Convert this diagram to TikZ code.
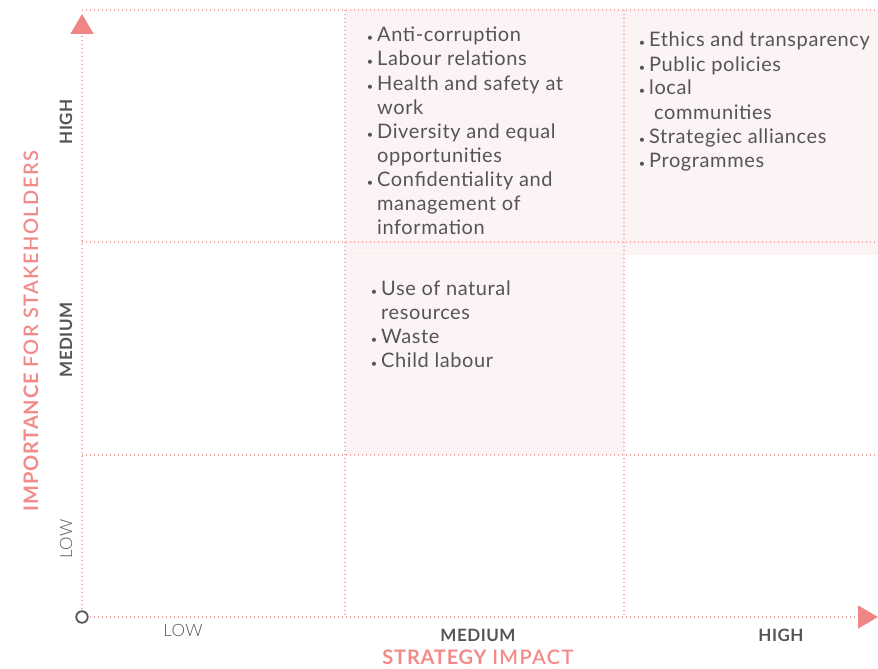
\documentclass[tikz,border=0pt]{standalone}
\usepackage{fontspec}
\setmainfont{Lato}
\newfontfamily\lightfont{Lato Light}
\usetikzlibrary{arrows.meta}
\definecolor{gridpink}{HTML}{F6A9A9}
\definecolor{arrowpink}{HTML}{F08585}
\definecolor{cellpink}{HTML}{FCF4F4}
\definecolor{textgrey}{HTML}{555555}
\definecolor{titlepink}{HTML}{F28A8A}
\newcommand{\blt}{\llap{{\fontsize{11}{11}\selectfont\textbullet}\hspace{4pt}}}
\tikzstyle{grid}=[draw=gridpink,line width=1.4pt,dash pattern=on 1.4pt off 2.6pt]
\tikzstyle{axis}=[grid,-{Triangle[length=20pt,width=23pt,color=arrowpink]}]
\tikzstyle{cell}=[fill=cellpink]
\tikzstyle{item}=[anchor=base west,inner sep=0pt,text=textgrey,font=\fontsize{20}{20}\selectfont\addfontfeatures{LetterSpace=3}]
\tikzstyle{level}=[inner sep=0pt,text=textgrey,font=\bfseries\fontsize{17}{17}\selectfont\addfontfeatures{LetterSpace=3}]
\tikzstyle{lowlevel}=[inner sep=0pt,text=textgrey,font=\lightfont\fontsize{17}{17}\selectfont\addfontfeatures{LetterSpace=2}]
\tikzstyle{title}=[inner sep=0pt,text=titlepink,font=\fontsize{20}{20}\selectfont]

\begin{document}
\begin{tikzpicture}[x=1pt,y=-1pt]
	\useasboundingbox (0,0) rectangle (878,669);
	%Shaded cells
	\fill[cell] (345,10) rectangle (624,253);
	\fill[cell] (345,253) rectangle (624,455);
	\fill[cell] (624,10) rectangle (878,255);
	\draw[draw=gridpink!25,line width=0.8pt] (345,253) -- (624,253);
	%Grid
	\coordinate (origin) at (82,617);
	\coordinate (ytip) at (82,14);
	\coordinate (xtip) at (878,617);
	\foreach \y in {10,242,455}
		\draw[grid] (82,\y) -- (878,\y);
	\foreach \x in {345,624}
		\draw[grid] (\x,10) -- (\x,617);
	\draw[axis] (origin) -- (ytip);
	\draw[axis] (origin) -- (xtip);
	\node[circle,draw=textgrey,fill=white,line width=1.8pt,minimum size=11.5pt,inner sep=0pt] (o) at (origin) {};
	%Levels
	\foreach \pos/\name/\txt in {{(66,122)/yhigh/HIGH}, {(66,340)/ymedium/MEDIUM}}
		\node[level,rotate=90] (\name) at \pos {\txt};
	\node[lowlevel,rotate=90] (ylow) at (66,539) {LOW};
	\foreach \pos/\name/\txt in {{(478,635)/xmedium/MEDIUM}, {(781,635)/xhigh/HIGH}}
		\node[level] (\name) at \pos {\txt};
	\node[lowlevel] (xlow) at (183,630) {LOW};
	%Titles
	\node[title,rotate=90] (ytitle) at (31,331) {\bfseries\addfontfeatures{LetterSpace=4}IMPORTANCE \lightfont\addfontfeatures{LetterSpace=7}FOR STAKEHOLDERS};
	\node[title] (xtitle) at (478,657) {\bfseries\addfontfeatures{LetterSpace=4}STRATEGY \lightfont\addfontfeatures{LetterSpace=7}IMPACT};
	%Top medium
	\foreach \pos/\name/\txt in {{(377,42)/anticorr/\blt Anti-corruption},
								{(377,66)/labour/\blt Labour relations},
								{(377,90)/health/\blt Health and safety at},
								{(377,114)/healthb/work},
								{(377,138)/diversity/\blt Diversity and equal},
								{(377,162)/diversityb/opportunities},
								{(377,186)/confid/\blt Confidentiality and},
								{(377,210)/confidb/management of},
								{(377,234)/confidc/information}}
		\node[item] (\name) at \pos {\txt};
	%Top high
	\foreach \pos/\name/\txt in {{(649,47)/ethics/\blt Ethics and transparency},
								{(649,71)/policies/\blt Public policies},
								{(649,95)/local/\blt local},
								{(654,119)/localb/communities},
								{(649,143)/alliances/\blt Strategiec alliances},
								{(649,167)/programmes/\blt Programmes}}
		\node[item] (\name) at \pos {\txt};
	%Middle medium
	\foreach \pos/\name/\txt in {{(381,295)/natural/\blt Use of natural},
								{(381,319)/naturalb/resources},
								{(381,343)/waste/\blt Waste},
								{(381,367)/child/\blt Child labour}}
		\node[item] (\name) at \pos {\txt};
\end{tikzpicture}
\end{document}
